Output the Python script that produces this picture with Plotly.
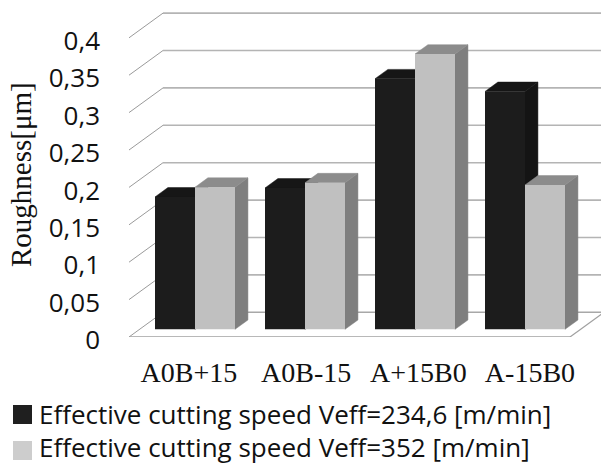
import plotly.graph_objects as go

categories = ["A0B+15", "A0B-15", "A+15B0", "A-15B0"]
series_1_name = "Effective cutting speed Veff=234,6 [m/min]"
series_2_name = "Effective cutting speed Veff=352 [m/min]"
series_1 = [0.177, 0.189, 0.335, 0.318]
series_2 = [0.190, 0.196, 0.368, 0.193]
tick_values = [0, 0.05, 0.1, 0.15, 0.2, 0.25, 0.3, 0.35, 0.4]
tick_labels = ["0", "0,05", "0,1", "0,15", "0,2", "0,25", "0,3", "0,35", "0,4"]

W, H = 601, 464
LEFT_PX, FLOOR_PX = 129, 337
PX_X = 110.0          # pixels per category
PX_Y = 748.0          # pixels per unit of roughness
ORIGIN_PX = 195.0     # pixel of the first category centre
DX = 34 / PX_X        # full depth of the 3D box in axis units
DY = 24.7 / PX_Y
BAR_W = 40 / PX_X
F0, F1 = 0.31, 0.69   # front and back of the bars as fractions of depth
LABEL_SHIFT = [-0.055, 0.01, 0.03, 0.045]  # the category labels sit slightly off centre

x_range = [(LEFT_PX - ORIGIN_PX) / PX_X, (W - ORIGIN_PX) / PX_X]
y_range = [0, FLOOR_PX / PX_Y]
x_last = x_range[0] + (570 - LEFT_PX) / PX_X

FONT_SANS = "Open Sans"
FONT_SERIF = "Liberation Serif"

fig = go.Figure()


def face(xs, ys, color):
    fig.add_trace(go.Scatter(x=xs, y=ys, mode="lines", fill="toself", fillcolor=color,
                             line=dict(color=color, width=0.5), hoverinfo="skip",
                             showlegend=False))


def solid(values, offset, side_color, top_color):
    for i, v in enumerate(values):
        x0 = i + offset * BAR_W
        x1 = x0 + BAR_W
        y0 = F0 * DY
        y1 = y0 + v
        ddx, ddy = (F1 - F0) * DX, (F1 - F0) * DY
        face([x1, x1 + ddx, x1 + ddx, x1, x1], [y0, y0 + ddy, y1 + ddy, y1, y0], side_color)
        face([x0, x0 + ddx, x1 + ddx, x1, x0], [y1, y1 + ddy, y1 + ddy, y1, y1], top_color)


# wall and floor lines, behind every trace
for t in tick_values:
    color = "#a8a8a8" if t == 0 else "#b4b4b4"
    fig.add_shape(type="line", xref="x", yref="y", layer="below",
                  x0=x_range[0], y0=t, x1=x_range[0] + DX, y1=t + DY,
                  line=dict(color="#9a9a9a", width=1))
    fig.add_shape(type="line", xref="x", yref="y", layer="below",
                  x0=x_range[0] + DX, y0=t + DY, x1=x_range[1] + DX, y1=t + DY,
                  line=dict(color=color, width=1.6))
fig.add_shape(type="line", xref="x", yref="y", layer="below", x0=x_range[0], y0=0, x1=x_last, y1=0,
              line=dict(color="#a0a0a0", width=1.6))
fig.add_shape(type="line", xref="x", yref="y", layer="below", x0=x_last, y0=0, x1=x_last + DX, y1=DY,
              line=dict(color="#a0a0a0", width=1.2))

solid(series_1, -1, "#141414", "#161616")
solid(series_2, 0, "#7f7f7f", "#8c8c8c")

# front faces, on an overlay so that they cover the side faces
for name, vals, col in [(series_1_name, series_1, "#1c1c1c"), (series_2_name, series_2, "#c0c0c0")]:
    fig.add_trace(go.Bar(x=list(range(len(categories))), y=vals,
                         base=[F0 * DY] * len(vals), name=name, marker=dict(color=col, line=dict(width=0)),
                         offsetgroup=name, xaxis="x2", yaxis="y2", showlegend=False))

fig.update_layout(
    width=W, height=H, autosize=False,
    margin=dict(l=LEFT_PX, r=0, t=0, b=H - FLOOR_PX, autoexpand=False),
    paper_bgcolor="white", plot_bgcolor="white",
    barmode="group", bargap=1 - 2 * BAR_W, bargroupgap=0,
    xaxis=dict(range=x_range, tickmode="array",
               tickvals=[i + s for i, s in enumerate(LABEL_SHIFT)],
               ticktext=categories, showgrid=False, zeroline=False, showline=False,
               ticks="", ticklabelstandoff=16, automargin=False,
               tickfont=dict(family=FONT_SERIF, size=28, color="#111111")),
    yaxis=dict(range=y_range, tickmode="array", tickvals=tick_values, ticktext=tick_labels,
               showgrid=False, zeroline=False, showline=False, ticks="",
               ticklabelstandoff=28, ticklabelshift=3, automargin=False,
               tickfont=dict(family=FONT_SANS, size=26, color="#111111")),
    xaxis2=dict(range=x_range, overlaying="x", visible=False),
    yaxis2=dict(range=y_range, overlaying="y", visible=False),
)

# axis title and legend
fig.add_annotation(text="Roughness[μm]", xref="paper", yref="paper", x=(21 - LEFT_PX) / (W - LEFT_PX),
                   y=1 - 175 / FLOOR_PX, xanchor="center", yanchor="middle", textangle=-90, showarrow=False,
                   font=dict(family=FONT_SERIF, size=29, color="#111111"))
for row, (name, col, center) in enumerate([(series_1_name, "#1f1f1f", 414), (series_2_name, "#cdcdcd", 447)]):
    top = 405 + row * 36
    fig.add_shape(type="rect", xref="paper", yref="paper",
                  x0=(13 - LEFT_PX) / (W - LEFT_PX), x1=(32 - LEFT_PX) / (W - LEFT_PX),
                  y0=1 - top / FLOOR_PX, y1=1 - (top + 19) / FLOOR_PX,
                  fillcolor=col, line=dict(width=0))
    fig.add_annotation(text=name, xref="paper", yref="paper", x=(37 - LEFT_PX) / (W - LEFT_PX),
                       y=1 - center / FLOOR_PX, xanchor="left", yanchor="middle", showarrow=False,
                       font=dict(family=FONT_SANS, size=26, color="#111111"))

fig.write_html("out.html", config=dict(displayModeBar=False),
               post_script="document.body.style.margin='0';")
